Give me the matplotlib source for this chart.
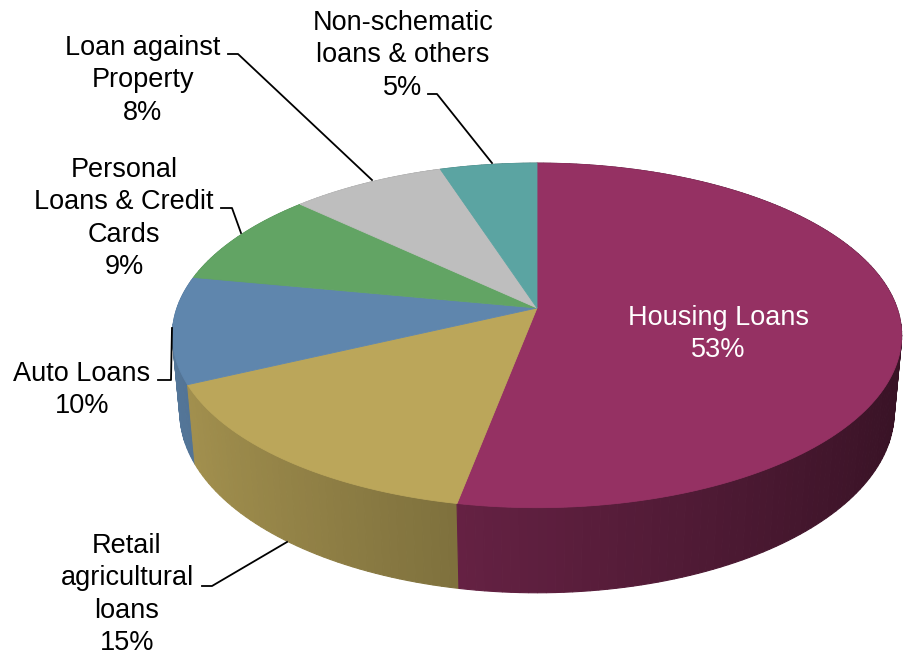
import numpy as np
import matplotlib
matplotlib.use("Agg")
import matplotlib.pyplot as plt
from matplotlib.patches import Polygon

# Data (clockwise from 12 o'clock)
labels = ["Housing Loans", "Retail agricultural loans", "Auto Loans",
          "Personal Loans & Credit Cards", "Loan against Property",
          "Non-schematic loans & others"]
values = [53, 15, 10, 9, 8, 5]
colors = ["#953163", "#BBA65A", "#5F86AD", "#62A464", "#BEBEBE", "#5BA4A2"]

# label text lines, as drawn
label_lines = [
    ["Housing Loans", "53%"],
    ["Retail", "agricultural", "loans", "15%"],
    ["Auto Loans", "10%"],
    ["Personal", "Loans & Credit", "Cards", "9%"],
    ["Loan against", "Property", "8%"],
    ["Non-schematic", "loans & others", "5%"],
]
# (center x, first baseline y) in pixels
label_pos = [(718, 325), (127, 553), (82, 381), (124, 177), (143, 55), (403, 30)]
# leader lines (pixel coords)
leaders = [
    None,
    [(202, 586), (212, 586), (287, 542)],
    [(158, 380), (171, 380), (172, 328)],
    [(221, 208), (232, 208), (241, 233)],
    [(228, 54), (238, 54), (372, 180)],
    [(428, 94), (437, 94), (492, 163)],
]

# 3D projection params
CX, CY = 537, 308
S = 360.0
PHI = np.radians(27.8)
D = 5.56
H = 0.243


def project(theta, y):
    X = np.sin(theta)
    Z = -np.cos(theta)
    depth = D - y * np.sin(PHI) - Z * np.cos(PHI)
    sx = S * X * D / depth
    sy = S * (Z * np.sin(PHI) - y * np.cos(PHI)) * D / depth
    return CX + sx, CY + sy, depth


def shade(hexcol, theta):
    f = 0.63 - 0.26 * np.sin(theta)
    rgb = np.array(matplotlib.colors.to_rgb(hexcol))
    return tuple(np.clip(rgb * f, 0, 1))


fig = plt.figure(figsize=(9.06, 6.56), dpi=100)
ax = fig.add_axes([0, 0, 1, 1])
ax.set_xlim(0, 906)
ax.set_ylim(656, 0)
ax.axis("off")

fracs = np.array(values) / sum(values)
bounds = np.concatenate([[0], np.cumsum(fracs)]) * 2 * np.pi

# side walls
segs = []
for i in range(len(values)):
    th = np.linspace(bounds[i], bounds[i + 1], max(4, int(fracs[i] * 300)))
    for a, b in zip(th[:-1], th[1:]):
        xa, ya, da = project(a, 0)
        xb, yb, db = project(b, 0)
        xa2, ya2, _ = project(a, -H)
        xb2, yb2, _ = project(b, -H)
        c = shade(colors[i], (a + b) / 2)
        segs.append(((da + db) / 2, [(xa, ya), (xb, yb), (xb2, yb2), (xa2, ya2)], c))
segs.sort(key=lambda s: -s[0])
for _, pts, c in segs:
    ax.add_patch(Polygon(pts, closed=True, facecolor=c, edgecolor=c, lw=0.8))

# top faces
for i in range(len(values)):
    th = np.linspace(bounds[i], bounds[i + 1], 200)
    x, y, _ = project(th, 0)
    pts = [(CX, CY)] + list(zip(x, y))
    ax.add_patch(Polygon(pts, closed=True, facecolor=colors[i],
                         edgecolor=colors[i], lw=0.6))

# labels
PITCH = 32.3
for i, lines in enumerate(label_lines):
    lx, ly = label_pos[i]
    col = "white" if i == 0 else "black"
    for k, line in enumerate(lines):
        ax.text(lx, ly + k * PITCH, line, ha="center", va="baseline",
                fontsize=19.5, family="Liberation Sans", color=col)
    if leaders[i]:
        xs, ys = zip(*leaders[i])
        ax.plot(xs, ys, color="black", lw=1.3)

fig.savefig("out.png", dpi=100)
